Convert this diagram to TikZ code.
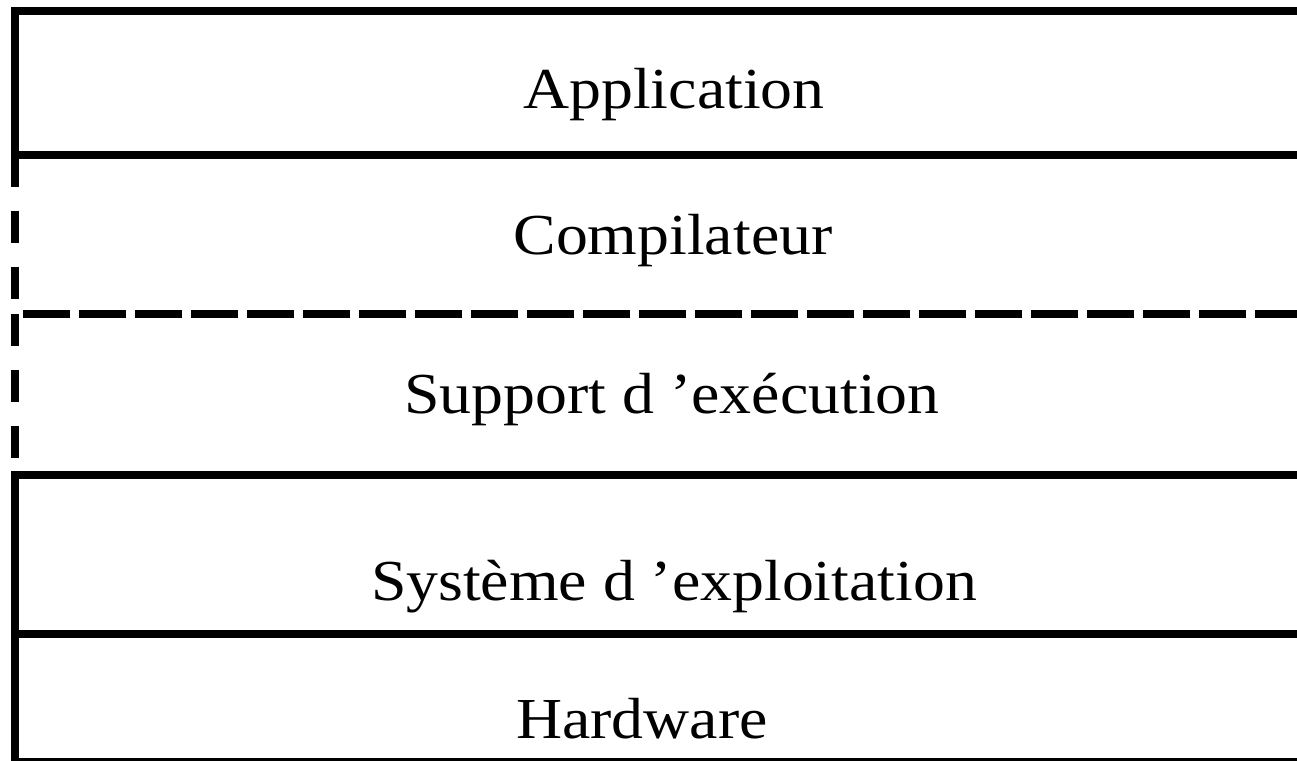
\documentclass[tikz,border=0pt]{standalone}
\usepackage{fontspec}
\setmainfont{Liberation Serif}[FakeStretch=1.1]

\begin{document}
\begin{tikzpicture}[x=0.75pt, y=-0.75pt,
    layer/.style={line width=6pt},
    dashside/.style={layer, dash pattern=on 24pt off 18pt},
    dashtop/.style={layer, dash pattern=on 35.25pt off 6.75pt},
    layername/.style={anchor=base, inner sep=0pt, font=\fontsize{43.5}{52}\selectfont}]
  \clip (0,0) rectangle (1297,761);
  % layer names
  \node[layername] (app) at (674,108) {Application};
  \node[layername] (comp) at (673,254) {Compilateur};
  \node[layername] (rts) at (672,413) {Support d ’exécution};
  \node[layername] (os) at (674,600) {Système d ’exploitation};
  \node[layername] (hw) at (642,738) {Hardware};
  % borders between the layers
  \coordinate (a1) at (15,11);
  \coordinate (a2) at (15,154.5);
  \coordinate (c2) at (15,314);
  \coordinate (s2) at (15,474.5);
  \coordinate (o2) at (15,634);
  \coordinate (h2) at (15,762);
  \draw[layer] (1297,11) -- (a1) -- (a2);
  \draw[layer] (a2) -- (1297,154.5);
  \draw[dashside] (a2) -- (c2);
  \draw[dashtop] (23,314) -- (1297,314);
  \draw[dashside] (c2) -- (s2);
  \draw[layer] (1297,474.5) -- (s2) -- (h2) -- (1297,762);
  \draw[layer] (o2) -- (1297,634);
\end{tikzpicture}
\end{document}
